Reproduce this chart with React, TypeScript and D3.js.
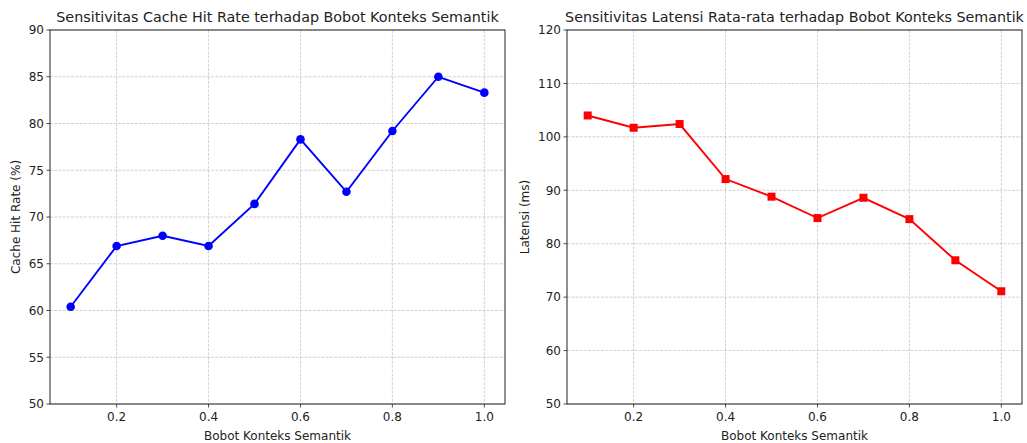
import React from "react";
import * as d3 from "d3";

// Bobot konteks semantik (sumbu x, sama untuk kedua panel)
const weights = [0.1, 0.2, 0.3, 0.4, 0.5, 0.6, 0.7, 0.8, 0.9, 1.0];
// Cache hit rate (%) per bobot
const hitRate = [60.4, 66.9, 68.0, 66.9, 71.4, 78.3, 72.7, 79.2, 85.0, 83.3];
// Latensi rata-rata (ms) per bobot
const latency = [104.0, 101.7, 102.4, 92.1, 88.8, 84.8, 88.6, 84.6, 76.9, 71.1];

const xTicks = [0.2, 0.4, 0.6, 0.8, 1.0];
const hitTicks = [50, 55, 60, 65, 70, 75, 80, 85, 90];
const latTicks = [50, 60, 70, 80, 90, 100, 110, 120];

const FONT = "DejaVu Sans, sans-serif";

type PanelProps = {
  left: number;
  width: number;
  title: string;
  yLabel: string;
  yLabelOffset: number;
  yDomain: [number, number];
  yTicks: number[];
  values: number[];
  color: string;
  marker: "circle" | "square";
};

const TOP = 30;
const BOTTOM = 404;

function Panel({ left, width, title, yLabel, yLabelOffset, yDomain, yTicks, values, color, marker }: PanelProps) {
  const x = d3.scaleLinear().domain([0.055, 1.045]).range([left, left + width]);
  const y = d3.scaleLinear().domain(yDomain).range([BOTTOM, TOP]);
  const line = d3
    .line<number>()
    .x((_, i) => x(weights[i]))
    .y((v) => y(v));
  const right = left + width;
  const gridStyle = { stroke: "#b0b0b0", strokeWidth: 0.8, strokeDasharray: "2.96,1.28", opacity: 0.7 };
  return (
    <g>
      {xTicks.map((t) => (
        <line key={"gx" + t} x1={x(t)} x2={x(t)} y1={TOP} y2={BOTTOM} {...gridStyle} />
      ))}
      {yTicks.map((t) => (
        <line key={"gy" + t} x1={left} x2={right} y1={y(t)} y2={y(t)} {...gridStyle} />
      ))}
      <path d={line(values) ?? ""} fill="none" stroke={color} strokeWidth={1.9} />
      {values.map((v, i) =>
        marker === "circle" ? (
          <circle key={i} cx={x(weights[i])} cy={y(v)} r={4.3} fill={color} />
        ) : (
          <rect key={i} x={x(weights[i]) - 4} y={y(v) - 4} width={8} height={8} fill={color} />
        )
      )}
      <rect x={left} y={TOP} width={width} height={BOTTOM - TOP} fill="none" stroke="#222" strokeWidth={1} />
      {xTicks.map((t) => (
        <g key={"tx" + t}>
          <line x1={x(t)} x2={x(t)} y1={BOTTOM} y2={BOTTOM + 3.5} stroke="#222" strokeWidth={0.8} />
          <text x={x(t)} y={BOTTOM + 17} textAnchor="middle" fontSize={12} fontFamily={FONT} fill="#222">
            {t.toFixed(1)}
          </text>
        </g>
      ))}
      {yTicks.map((t) => (
        <g key={"ty" + t}>
          <line x1={left - 3.5} x2={left} y1={y(t)} y2={y(t)} stroke="#222" strokeWidth={0.8} />
          <text x={left - 6} y={y(t) + 4.3} textAnchor="end" fontSize={12} fontFamily={FONT} fill="#222">
            {t}
          </text>
        </g>
      ))}
      <text x={(left + right) / 2} y={TOP - 8} textAnchor="middle" fontSize={14.3} fontFamily={FONT} fill="#222">
        {title}
      </text>
      <text x={(left + right) / 2} y={440} textAnchor="middle" fontSize={12} fontFamily={FONT} fill="#222">
        Bobot Konteks Semantik
      </text>
      <text
        transform={`translate(${left - yLabelOffset},${(TOP + BOTTOM) / 2}) rotate(-90)`}
        textAnchor="middle"
        fontSize={12}
        fontFamily={FONT}
        fill="#222"
      >
        {yLabel}
      </text>
    </g>
  );
}

export default function App() {
  return (
    <svg width={1027} height={443} style={{ position: "absolute", left: 0, top: 0, background: "#fff" }}>
      <rect width={1027} height={443} fill="#fff" />
      <Panel
        left={50}
        width={455}
        title="Sensitivitas Cache Hit Rate terhadap Bobot Konteks Semantik"
        yLabel="Cache Hit Rate (%)"
        yLabelOffset={30}
        yDomain={[50, 90]}
        yTicks={hitTicks}
        values={hitRate}
        color="#0000ff"
        marker="circle"
      />
      <Panel
        left={567}
        width={455}
        title="Sensitivitas Latensi Rata-rata terhadap Bobot Konteks Semantik"
        yLabel="Latensi (ms)"
        yLabelOffset={38}
        yDomain={[50, 120]}
        yTicks={latTicks}
        values={latency}
        color="#ff0000"
        marker="square"
      />
    </svg>
  );
}
